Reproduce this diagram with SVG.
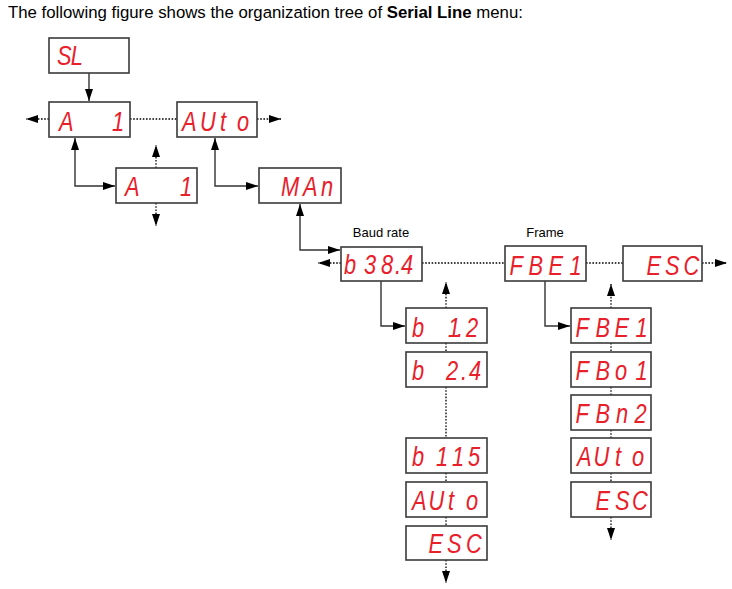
<svg xmlns="http://www.w3.org/2000/svg" width="732" height="589" viewBox="0 0 732 589">
<style>
.title{font-family:"Liberation Sans",Arial,sans-serif;font-size:16.8px;fill:#000}
.lbl{font-family:"Liberation Sans",Arial,sans-serif;font-size:13px;fill:#000;text-anchor:middle}
.box{fill:#fff;stroke:#3a3a3a;stroke-width:1.6}
.seg{font-family:"Liberation Sans",Arial,sans-serif;font-size:28px;font-style:italic;fill:#e8202a}
.solid{fill:none;stroke:#333;stroke-width:1.4}
.dot{fill:none;stroke:#000;stroke-width:1.3;stroke-dasharray:1.6 1.6}
</style>
<defs>
<marker id="ah" markerUnits="userSpaceOnUse" markerWidth="12" markerHeight="8" refX="12" refY="4" orient="auto-start-reverse">
<path d="M0,0 L12,4 L0,8 z" fill="#000"/>
</marker>
</defs>
<text class="title" x="8" y="18">The following figure shows the organization tree of <tspan font-weight="bold">Serial Line</tspan> menu:</text>
<text class="lbl" x="381" y="237">Baud rate</text>
<text class="lbl" x="545" y="237">Frame</text>
<g id="connectors">
<path class="solid" d="M89,73 V101" marker-end="url(#ah)"/>
<path class="dot" d="M49,119 H26" marker-end="url(#ah)"/>
<path class="dot" d="M130,119 H177"/>
<path class="dot" d="M257,119 H281" marker-end="url(#ah)"/>
<path class="solid" d="M75,138 V186 H115" marker-start="url(#ah)" marker-end="url(#ah)"/>
<path class="dot" d="M156,168 V145" marker-end="url(#ah)"/>
<path class="dot" d="M156,203 V226" marker-end="url(#ah)"/>
<path class="solid" d="M215,138 V186 H258" marker-start="url(#ah)" marker-end="url(#ah)"/>
<path class="solid" d="M300,204 V250 H340" marker-start="url(#ah)" marker-end="url(#ah)"/>
<path class="dot" d="M341,263 H318" marker-end="url(#ah)"/>
<path class="dot" d="M422,263 H505"/>
<path class="dot" d="M586,263 H623"/>
<path class="dot" d="M702,263 H727" marker-end="url(#ah)"/>
<path class="solid" d="M381,281 V326 H405" marker-end="url(#ah)"/>
<path class="dot" d="M446,308 V282" marker-end="url(#ah)"/>
<path class="dot" d="M446,343 V352 M446,387 V438 M446,473 V482 M446,517 V526"/>
<path class="dot" d="M446,560 V583" marker-end="url(#ah)"/>
<path class="solid" d="M545,281 V326 H570" marker-end="url(#ah)"/>
<path class="dot" d="M611,308 V284" marker-end="url(#ah)"/>
<path class="dot" d="M611,343 V352 M611,387 V395 M611,430 V438 M611,473 V482"/>
<path class="dot" d="M611,517 V540" marker-end="url(#ah)"/>
</g>
<g id="n-sl"><rect class="box" x="49" y="38" width="80" height="35"/><text class="seg" transform="translate(57,0) scale(0.78,1)" x="0 17.5" y="65">SL</text></g>
<g id="n-a1"><rect class="box" x="49" y="102" width="81" height="35"/><text class="seg" transform="translate(59,0) scale(0.78,1)" x="0 26.9 67.9" y="131">A 1</text></g>
<g id="n-auto"><rect class="box" x="177" y="102" width="80" height="35"/><text class="seg" transform="translate(182,0) scale(0.78,1)" x="0 23.1 48.7 70.5" y="131">AUto</text></g>
<g id="n-a1b"><rect class="box" x="116" y="168" width="81" height="35"/><text class="seg" transform="translate(125,0) scale(0.78,1)" x="0 26.9 70.5" y="196">A 1</text></g>
<g id="n-man"><rect class="box" x="259" y="168" width="82" height="35"/><text class="seg" transform="translate(281,0) scale(0.78,1)" x="0 28.2 51.3" y="196">MAn</text></g>
<g id="n-b384"><rect class="box" x="341" y="247" width="81" height="34"/><text class="seg" transform="translate(344,0) scale(0.78,1)" x="0 25.6 47.4 65.4 73.1" y="274">b38.4</text></g>
<g id="n-fbe1"><rect class="box" x="505" y="246" width="81" height="35"/><text class="seg" transform="translate(509.5,0) scale(0.78,1)" x="0 24.4 50 76.9" y="275">FBE1</text></g>
<g id="n-esc"><rect class="box" x="623" y="246" width="79" height="35"/><text class="seg" transform="translate(646.5,0) scale(0.78,1)" x="0 23.7 47.4" y="275">ESC</text></g>
<g id="n-b12"><rect class="box" x="406" y="308" width="81" height="35"/><text class="seg" transform="translate(412,0) scale(0.78,1)" x="0 20.5 46.2 57.7 69.2" y="337">b 1.2</text></g>
<g id="n-b24"><rect class="box" x="406" y="352" width="81" height="35"/><text class="seg" transform="translate(412,0) scale(0.78,1)" x="0 20.5 43.6 62.8 73.1" y="380">b 2.4</text></g>
<g id="n-b115"><rect class="box" x="406" y="438" width="81" height="35"/><text class="seg" transform="translate(412,0) scale(0.78,1)" x="0 30.8 51.3 71.8" y="466">b115</text></g>
<g id="n-bauto"><rect class="box" x="406" y="482" width="81" height="35"/><text class="seg" transform="translate(412,0) scale(0.78,1)" x="0 21.2 46.2 69.2" y="510">AUto</text></g>
<g id="n-besc"><rect class="box" x="406" y="526" width="81" height="34"/><text class="seg" transform="translate(428.5,0) scale(0.78,1)" x="0 23.7 48.1" y="553">ESC</text></g>
<g id="n-fbe1b"><rect class="box" x="571" y="308" width="80" height="35"/><text class="seg" transform="translate(575.5,0) scale(0.78,1)" x="0 25.6 50 76.9" y="337">FBE1</text></g>
<g id="n-fbo1"><rect class="box" x="571" y="352" width="80" height="35"/><text class="seg" transform="translate(575.5,0) scale(0.78,1)" x="0 25.6 50.6 76.9" y="380">FBo1</text></g>
<g id="n-fbn2"><rect class="box" x="571" y="395" width="80" height="35"/><text class="seg" transform="translate(575.5,0) scale(0.78,1)" x="0 25.6 51.9 75.6" y="423">FBn2</text></g>
<g id="n-fauto"><rect class="box" x="571" y="438" width="80" height="35"/><text class="seg" transform="translate(577,0) scale(0.78,1)" x="0 21.2 48.7 70.5" y="466">AUto</text></g>
<g id="n-fesc"><rect class="box" x="571" y="482" width="80" height="35"/><text class="seg" transform="translate(595.5,0) scale(0.78,1)" x="0 25 46.8" y="510">ESC</text></g>
</svg>
